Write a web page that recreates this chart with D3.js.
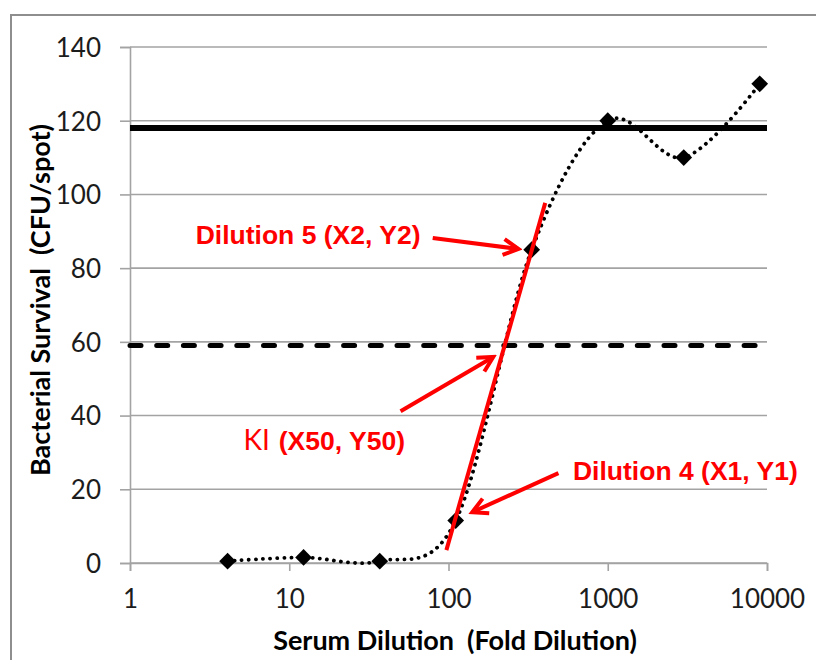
<!DOCTYPE html>
<html>
<head>
<meta charset="utf-8">
<script src="https://cdn.jsdelivr.net/npm/d3@7"></script>
<style>
  body { margin: 0; background: #fff; }
  svg text { font-family: Lato, 'Open Sans', sans-serif; white-space: pre; }
  svg text.note { font-family: 'Liberation Sans', Arial, sans-serif; }
</style>
</head>
<body>
<div id="chart"></div>
<script>
// serum dilution series (3-fold steps) and bacterial counts
const dilutions = [4.1, 12.3, 37, 111, 333, 1000, 3000, 9000];
const survival = [0.5, 1.5, 0.5, 11.5, 85, 120, 110, 130];

const xTicks = [1, 10, 100, 1000, 10000];
const yTicks = [0, 20, 40, 60, 80, 100, 120, 140];

// reference levels: mean of no-serum controls and its half
const maxSurvival = 118;
const halfSurvival = 59;

// red slope line between dilution 4 and 5
const slopeX = [97, 405];
const slopeY = [3.5, 97.7];

// annotation arrows [fromX, fromY, toX, toY] in data units
const arrowFromX = [79.6, 50, 490];
const arrowFromY = [88.2, 41.2, 24.4];
const arrowToX = [275, 191, 141];
const arrowToY = [85.2, 55.9, 13.8];

const labelText = ['Dilution 5 (X2, Y2)', '(X50, Y50)', 'Dilution 4 (X1, Y1)'];
const labelX = [66.7, 53.3, 605];
const labelY = [86.5, 30.7, 22.5];

const width = 816;
const height = 660;
const margin = { top: 47, right: 49, bottom: 97, left: 130 };

const svg = d3.select('#chart')
  .append('svg')
  .attr('width', width)
  .attr('height', height);

// outer frame of the pasted chart (only left & top visible)
svg.append('rect')
  .attr('x', 11)
  .attr('y', 15)
  .attr('width', 900)
  .attr('height', 800)
  .attr('fill', 'none')
  .attr('stroke', '#8e8e8e')
  .attr('stroke-width', 2);

const x = d3.scaleLog()
  .domain([1, 10000])
  .range([margin.left, width - margin.right]);
const y = d3.scaleLinear()
  .domain([0, 140])
  .range([height - margin.bottom, margin.top]);

/* Method to draw horizontal gridlines and both axes
   Params: @g is the group that will hold the axes
*/
function AppendAxes(g) {
  g.append('g')
    .selectAll('line')
    .data(yTicks)
    .join('line')
    .attr('x1', x(1))
    .attr('x2', x(10000))
    .attr('y1', (d) => y(d))
    .attr('y2', (d) => y(d))
    .attr('stroke', '#a3a3a3')
    .attr('stroke-width', 1.6);

  const yAxis = g.append('g')
    .attr('transform', `translate(${x(1)},0)`)
    .call(d3.axisLeft(y).tickValues(yTicks).tickSize(10).tickPadding(19));
  const xAxis = g.append('g')
    .attr('transform', `translate(0,${y(0)})`)
    .call(d3.axisBottom(x).tickValues(xTicks).tickFormat(d3.format('d')).tickSize(8)
      .tickPadding(19));

  [xAxis, yAxis].forEach((axis) => {
    axis.select('.domain').attr('stroke', '#a3a3a3').attr('stroke-width', 1.6);
    axis.selectAll('.tick line').attr('stroke', '#a3a3a3').attr('stroke-width', 1.6);
    axis.selectAll('.tick text')
      .attr('fill', '#1c1c1c')
      .style('font-size', '26px');
  });
  yAxis.selectAll('.tick text').attr('dy', '0.36em');
  xAxis.selectAll('.tick text').attr('dy', '0.71em');
}

function AppendTitles(g) {
  g.append('text')
    .attr('x', 455)
    .attr('y', 650)
    .attr('text-anchor', 'middle')
    .attr('font-weight', 'bold')
    .style('font-size', '27px')
    .text('Serum Dilution  (Fold Dilution)');
  g.append('text')
    .attr('transform', `translate(50,${(margin.top + height - margin.bottom) / 2 - 5}) rotate(-90)`)
    .attr('text-anchor', 'middle')
    .attr('font-weight', 'bold')
    .style('font-size', '27px')
    .text('Bacterial Survival  (CFU/spot)');
}

/* Method to draw the survival series: smoothed dotted line and diamond markers */
function AppendSeries(g) {
  const points = dilutions.map((d, i) => [d, survival[i]]);
  const line = d3.line()
    .x((d) => x(d[0]))
    .y((d) => y(d[1]))
    .curve(d3.curveCatmullRom.alpha(0));
  g.append('path')
    .datum(points)
    .attr('d', line)
    .attr('fill', 'none')
    .attr('stroke', '#000')
    .attr('stroke-width', 3.8)
    .attr('stroke-linecap', 'round')
    .attr('stroke-dasharray', '0.1 7');

  g.append('g')
    .selectAll('path')
    .data(points)
    .join('path')
    .attr('d', d3.symbol(d3.symbolSquare, 140))
    .attr('transform', (d) => `translate(${x(d[0])},${y(d[1])}) rotate(45)`)
    .attr('fill', '#000');
}

function AppendReferenceLines(g) {
  g.append('line')
    .attr('x1', x(1))
    .attr('x2', x(10000))
    .attr('y1', y(maxSurvival))
    .attr('y2', y(maxSurvival))
    .attr('stroke', '#000')
    .attr('stroke-width', 6);
  g.append('line')
    .attr('x1', x(1))
    .attr('x2', x(10000))
    .attr('y1', y(halfSurvival))
    .attr('y2', y(halfSurvival))
    .attr('stroke', '#000')
    .attr('stroke-width', 5)
    .attr('stroke-linecap', 'round')
    .attr('stroke-dasharray', '11 15.7');
}

/* Method to draw red slope line, arrows and labels */
function AppendAnnotations(g) {
  const red = '#ff0000';
  svg.append('defs')
    .append('marker')
    .attr('id', 'arrow-head')
    .attr('markerUnits', 'userSpaceOnUse')
    .attr('viewBox', '-20 -12 24 24')
    .attr('markerWidth', 24)
    .attr('markerHeight', 24)
    .attr('refX', 0)
    .attr('refY', 0)
    .attr('orient', 'auto')
    .append('path')
    .attr('d', 'M-15,-8 L0,0 L-15,8')
    .attr('fill', 'none')
    .attr('stroke', red)
    .attr('stroke-width', 4)
    .attr('stroke-linejoin', 'miter');

  g.append('line')
    .attr('x1', x(slopeX[0]))
    .attr('y1', y(slopeY[0]))
    .attr('x2', x(slopeX[1]))
    .attr('y2', y(slopeY[1]))
    .attr('stroke', red)
    .attr('stroke-width', 4);

  g.append('g')
    .selectAll('line')
    .data(arrowFromX)
    .join('line')
    .attr('x1', (d) => x(d))
    .attr('y1', (d, i) => y(arrowFromY[i]))
    .attr('x2', (d, i) => x(arrowToX[i]))
    .attr('y2', (d, i) => y(arrowToY[i]))
    .attr('stroke', red)
    .attr('stroke-width', 4)
    .attr('marker-end', 'url(#arrow-head)');

  const labels = g.append('g')
    .selectAll('text')
    .data(labelText)
    .join('text')
    .classed('note', true)
    .attr('x', (d, i) => x(labelX[i]))
    .attr('y', (d, i) => y(labelY[i]))
    .attr('text-anchor', (d, i) => (i === 2 ? 'start' : 'end'))
    .attr('fill', red)
    .attr('font-weight', 'bold')
    .style('font-size', '26.5px')
    .text((d) => d);

  // the KI prefix is in regular weight
  const kiLabel = labels.filter((d, i) => i === 1);
  g.append('text')
    .attr('x', x(labelX[1]) - kiLabel.node().getComputedTextLength() - 9)
    .attr('y', y(labelY[1]))
    .attr('text-anchor', 'end')
    .attr('fill', red)
    .style('font-size', '28px')
    .text('KI');
}

const chart = svg.append('g');
AppendAxes(chart);
AppendReferenceLines(chart);
AppendSeries(chart);
AppendAnnotations(chart);
AppendTitles(chart);
</script>
</body>
</html>
